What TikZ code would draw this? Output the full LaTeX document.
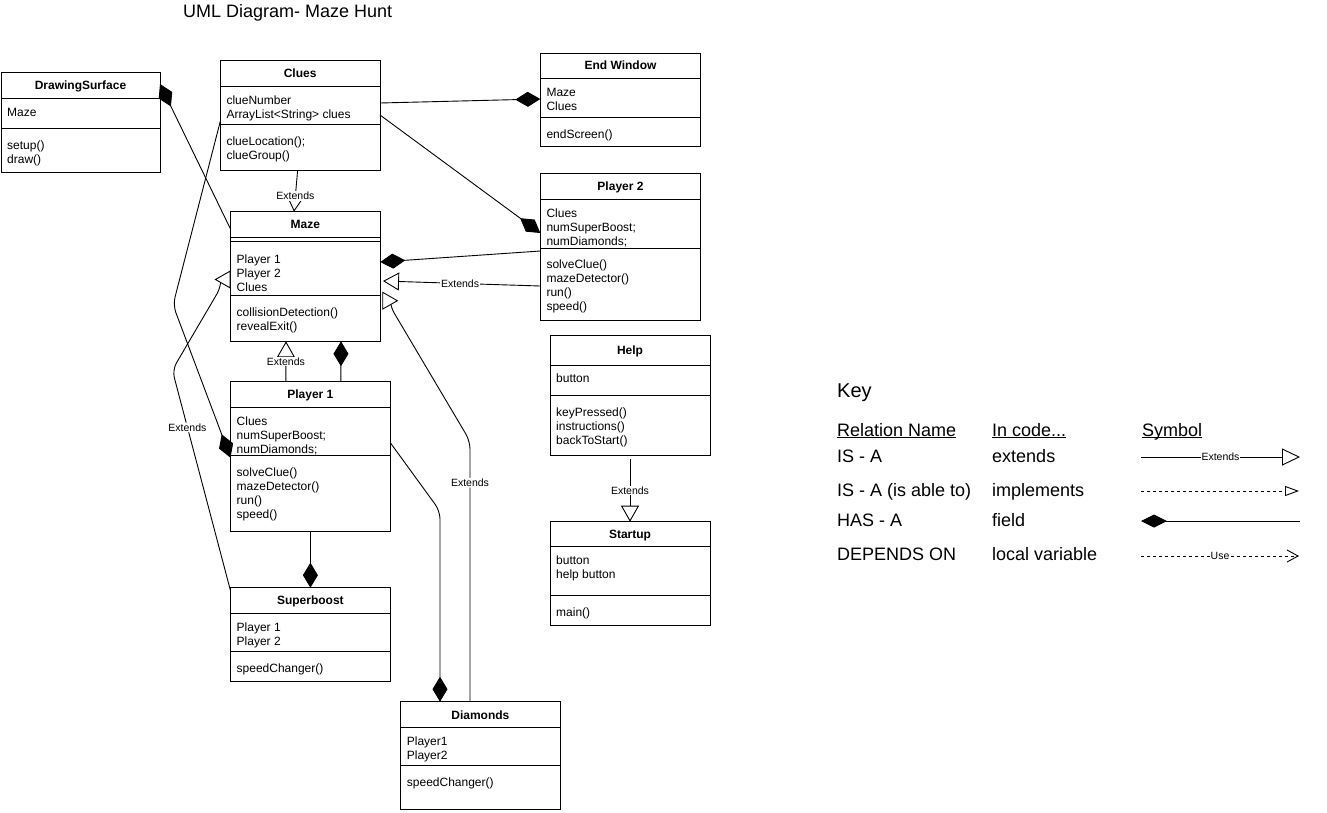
\documentclass[tikz,border=0pt]{standalone}
\usepackage{fontspec}
\setmainfont{Liberation Sans}
\usetikzlibrary{arrows.meta,calc}

\newcommand{\bodyfont}{\fontsize{12}{14}\selectfont}
\newcommand{\labelfont}{\fontsize{10.5}{12}\selectfont}
\newcommand{\keyfont}{\fontsize{18}{21}\selectfont}
\newcommand{\linelift}{\rule{0pt}{10pt}}
\newcommand{\ul}[1]{\underline{\smash{#1}}}
\def\fieldgap{17.5pt}

\tikzset{
  classframe/.style={draw, rectangle, line width=1pt, anchor=north west, inner sep=0pt, outer sep=0pt},
  frameline/.style={line width=1pt},
  classtitle/.style={anchor=base, inner sep=0pt, font=\bodyfont\bfseries},
  members/.style={anchor=north west, inner sep=0pt, align=left, font=\bodyfont},
  conn/.style={line width=0.9pt},
  has/.style={conn, -{Diamond[length=25pt,width=15pt]}},
  ext/.style={conn, -{Triangle[length=16pt,width=18pt,fill=white]}},
  lbl/.style={font=\labelfont, fill=white, inner sep=1pt},
  keytext/.style={anchor=base west, inner sep=0pt, font=\keyfont},
  keytitle/.style={anchor=base west, inner sep=0pt, font=\fontsize{20}{24}\selectfont},
  dashes/.style={dash pattern=on 3pt off 3pt},
}

% class box: name, top-left, width, height, header height, separator offset, title, fields, operations
\newcommand{\umlclass}[9]{%
  \node[classframe, minimum width=#3pt, minimum height=#4pt] (#1) at (#2) {};
  \draw[frameline] ([yshift=-#5pt]#1.north west) -- ([yshift=-#5pt]#1.north east);
  \draw[frameline] ([yshift=-#6pt]#1.north west) -- ([yshift=-#6pt]#1.north east);
  \node[classtitle] (#1-title) at ([yshift={-0.5*#5pt-4.3pt}]#1.north) {#7};
  \node[members] (#1-fields) at ([xshift=6pt,yshift={-#5pt-\fieldgap+10pt}]#1.north west) {\linelift #8};
  \node[members] (#1-ops) at ([xshift=6pt,yshift={-#6pt-10.5pt}]#1.north west) {\linelift #9};
}

\begin{document}
\begin{tikzpicture}[x=1pt,y=-1pt]
\useasboundingbox (0,0) rectangle (1327,812);

% title
\node[anchor=base west, inner sep=0pt, font=\fontsize{18}{22}\selectfont] (title) at (183,17.5) {UML Diagram- Maze Hunt};

% classes
\umlclass{drawing}{1,72}{159}{100}{26.3}{56.3}{DrawingSurface}{Maze}{setup()\\draw()}
\umlclass{clues}{220.3,60.3}{159.7}{109.7}{26.4}{64.4}{Clues}{clueNumber\\ArrayList<String> clues}{clueLocation();\\clueGroup()}
\umlclass{endwin}{540.3,53}{160.4}{93.3}{25.3}{64.7}{End Window}{Maze\\Clues}{endScreen()}
\umlclass{player2}{540.3,173.3}{160.4}{147}{26}{74.7}{Player 2}{Clues\\numSuperBoost;\\numDiamonds;}{solveClue()\\mazeDetector()\\run()\\speed()}
\def\fieldgap{26pt}
\umlclass{maze}{230.5,211.7}{149.8}{129.6}{25.6}{83.6}{Maze}{Player 1\\Player 2\\Clues}{collisionDetection()\\revealExit()}
\def\fieldgap{17.5pt}
\draw[frameline] ([yshift=-30pt]maze.north west) -- ([yshift=-30pt]maze.north east);
\umlclass{player1}{230.5,381.7}{159.8}{149.3}{25.6}{73.6}{Player 1}{Clues\\numSuperBoost;\\numDiamonds;}{solveClue()\\mazeDetector()\\run()\\speed()}
\umlclass{superboost}{230.5,587.7}{159.8}{93.3}{25.6}{63.6}{Superboost}{Player 1\\Player 2}{speedChanger()}
\umlclass{diamonds}{400.7,701.7}{159.3}{107.5}{26}{63.6}{Diamonds}{Player1\\Player2}{speedChanger()}
\umlclass{help}{550,335}{160}{120}{30}{60.7}{Help}{button}{keyPressed()\\instructions()\\backToStart()}
\umlclass{startup}{550,521.7}{160}{103.3}{25}{74}{Startup}{button\\help button}{main()}

% has-a relations (diamond at the owner)
\draw[has] ([yshift=-17.3pt]maze.north west) -- ([yshift=-12pt]drawing.north east);
\draw[has] ([yshift=-42.7pt]clues.north east) -- ([yshift=-46pt]endwin.north west);
\draw[has] ([yshift=-54.7pt]clues.north east) -- ([yshift=-59.7pt]player2.north west);
\draw[has] ([yshift=-77.7pt]player2.north west) -- ([yshift=-50.3pt]maze.north east);
\draw[has] ([xshift=30.5pt]player1.north) -- ([xshift=35.6pt]maze.south);
\draw[has] (player1.south) -- (superboost.north);
\draw[has, rounded corners=8pt] ([yshift=-61pt]player1.north east) -- (440,511) -- ([xshift=39.3pt]diamonds.north west);
\draw[has, rounded corners=8pt] ([yshift=-61pt]clues.north west) -- (173,305) -- ([yshift=-76pt]player1.north west);

% extends relations
\draw[ext] ([xshift=-2.5pt]clues.south) -- node[lbl, pos=0.62] (lclues) {Extends} ([xshift=-11.4pt]maze.north);
\draw[ext] ([yshift=-112.7pt]player2.north west) -- node[lbl, pos=0.51] (lp2) {Extends} ([xshift=2.7pt,yshift=-69.3pt]maze.north east);
\draw[ext] ([xshift=-24.5pt]player1.north) -- node[lbl, pos=0.5] (lp1) {Extends} ([xshift=-19.4pt]maze.south);
\draw[ext, rounded corners=8pt] ([yshift=-3pt]superboost.north west) -- node[lbl, pos=0.74] (lsb) {Extends} (172.3,370) -- (221,287) [sharp corners] |- ([xshift=-16pt,yshift=-67.8pt]maze.north west);
\draw[ext, rounded corners=8pt] ([xshift=69.3pt]diamonds.north west) -- node[lbl, pos=0.84] (ldm) {Extends} (470,441) -- (390,306) [sharp corners] |- ([xshift=18pt,yshift=-89pt]maze.north east);
\draw[ext] ([yshift=-4pt]help.south) -- node[lbl, pos=0.5] (lhelp) {Extends} (startup.north);

% key
\node[keytitle] (key) at (837,397) {Key};
\node[keytext] (hrel) at (837,436) {\ul{Relation Name}};
\node[keytext] (hcode) at (992,436) {\ul{In code...}};
\node[keytext] (hsym) at (1142,436) {\ul{Symbol}};
\node[keytext] (r1a) at (837,462) {IS - A};
\node[keytext] (r1b) at (992,462) {extends};
\node[keytext] (r2a) at (837,496) {IS - A (is able to)};
\node[keytext] (r2b) at (992,496) {implements};
\node[keytext] (r3a) at (837,526) {HAS - A};
\node[keytext] (r3b) at (992,526) {field};
\node[keytext] (r4a) at (837,560) {DEPENDS ON};
\node[keytext] (r4b) at (992,560) {local variable};

\coordinate (k1a) at (1141,457);  \coordinate (k1b) at (1300,457);
\coordinate (k2a) at (1141,491);  \coordinate (k2b) at (1299,491);
\coordinate (k3a) at (1141,521);  \coordinate (k3b) at (1300,521);
\coordinate (k4a) at (1141,556);  \coordinate (k4b) at (1299,556);
\draw[conn, -{Triangle[length=18pt,width=17pt,fill=white]}] (k1a) -- node[lbl, inner sep=0.5pt] (kext) {Extends} (k1b);
\draw[conn, dashes, -{Triangle[length=14pt,width=10pt,fill=white]}] (k2a) -- (k2b);
\draw[conn, -{Diamond[length=26pt,width=13pt]}] (k3b) -- (k3a);
\draw[conn, dashes, -{Straight Barb[length=11pt,width=12pt]}] (k4a) -- node[lbl, inner sep=0.5pt] (kuse) {Use} (k4b);
\end{tikzpicture}
\end{document}
